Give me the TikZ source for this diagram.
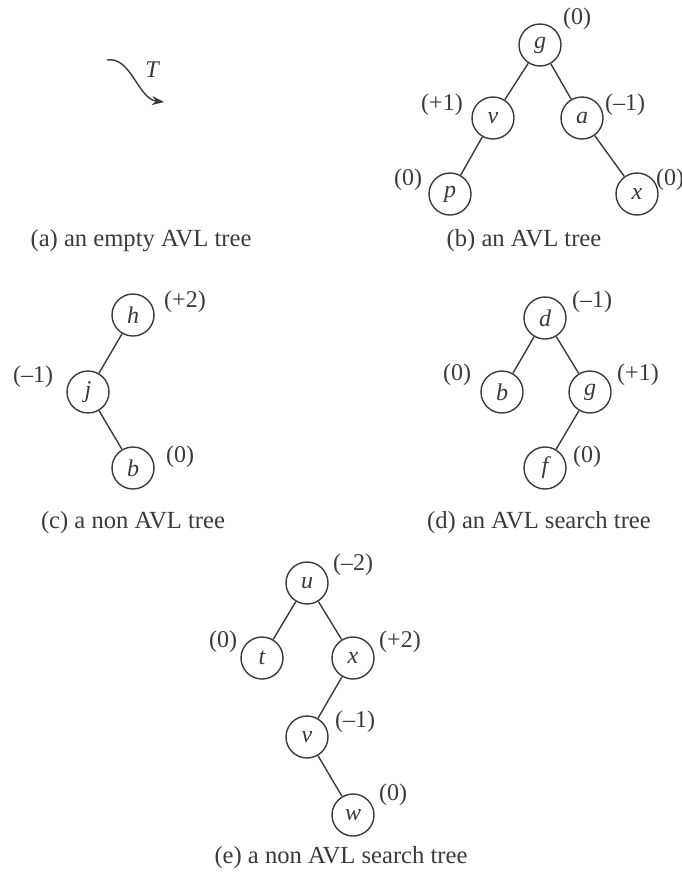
\documentclass[tikz,border=0pt]{standalone}
\usepackage{fontspec}
\setmainfont{Liberation Serif}
\usepackage{tikz}
\usetikzlibrary{arrows.meta}
\definecolor{cizgiGri}{HTML}{3A3A3A}

\begin{document}
\begin{tikzpicture}[x=0.5pt,y=-0.5pt,
  dugum/.style={circle,draw=cizgiGri,line width=0.7pt,minimum size=21pt,inner sep=0pt,
    text=cizgiGri,font=\fontsize{12}{14}\selectfont\itshape},
  denge/.style={text=cizgiGri,font=\fontsize{12}{14}\selectfont},
  altYazi/.style={text=cizgiGri,font=\fontsize{12.3}{14}\selectfont},
  kenar/.style={draw=cizgiGri,line width=0.7pt}]
\useasboundingbox (0,0) rectangle (681,873);
% (a) bos agac: sadece T oku
\coordinate (t0) at (107,60);
\coordinate (t1) at (164,102);
\draw[kenar,-{Stealth[length=6pt,width=4.5pt]}] (t0) .. controls (131,56) and (138,99) .. (t1);
\node[denge,font=\fontsize{12}{14}\selectfont\itshape] (tT) at (152,70) {T};
\node[altYazi] (capA) at (141,241) {(a) an empty AVL tree};
% (b)
\node[dugum] (bg) at (540,45) {g};
\node[dugum] (bv) at (493,118) {v};
\node[dugum] (ba) at (582,118) {a};
\node[dugum] (bp) at (450,194) {p};
\node[dugum] (bx) at (637,194) {x};
\draw[kenar] (bg) -- (bv);
\draw[kenar] (bg) -- (ba);
\draw[kenar] (bv) -- (bp);
\draw[kenar] (ba) -- (bx);
\node[denge] (bgd) at (577,19) {(0)};
\node[denge] (bvd) at (442,105) {(+1)};
\node[denge] (bad) at (625,105) {(--1)};
\node[denge] (bpd) at (408,180) {(0)};
\node[denge] (bxd) at (670,180) {(0)};
\node[altYazi] (capB) at (524,241) {(b) an AVL tree};
% (c)
\node[dugum] (ch) at (133,315) {h};
\node[dugum] (cj) at (88,392) {j};
\node[dugum] (cb) at (133,468) {b};
\draw[kenar] (ch) -- (cj);
\draw[kenar] (cj) -- (cb);
\node[denge] (chd) at (185,302) {(+2)};
\node[denge] (cjd) at (33,377) {(--1)};
\node[denge] (cbd) at (180,457) {(0)};
\node[altYazi] (capC) at (133,523) {(c) a non AVL tree};
% (d)
\node[dugum] (dd) at (545,318) {d};
\node[dugum] (db) at (502,392) {b};
\node[dugum] (dg) at (590,392) {g};
\node[dugum] (df) at (545,468) {f};
\draw[kenar] (dd) -- (db);
\draw[kenar] (dd) -- (dg);
\draw[kenar] (dg) -- (df);
\node[denge] (ddd) at (592,302) {(--1)};
\node[denge] (dbd) at (457,375) {(0)};
\node[denge] (dgd) at (638,375) {(+1)};
\node[denge] (dfd) at (587,457) {(0)};
\node[altYazi] (capD) at (539,523) {(d) an AVL search tree};
% (e)
\node[dugum] (eu) at (307,583) {u};
\node[dugum] (et) at (262,658) {t};
\node[dugum] (ex) at (353,658) {x};
\node[dugum] (ev) at (307,737) {v};
\node[dugum] (ew) at (353,815) {w};
\draw[kenar] (eu) -- (et);
\draw[kenar] (eu) -- (ex);
\draw[kenar] (ex) -- (ev);
\draw[kenar] (ev) -- (ew);
\node[denge] (eud) at (353,565) {(--2)};
\node[denge] (etd) at (223,642) {(0)};
\node[denge] (exd) at (400,642) {(+2)};
\node[denge] (evd) at (355,722) {(--1)};
\node[denge] (ewd) at (393,795) {(0)};
\node[altYazi] (capE) at (341,858) {(e) a non AVL search tree};
\end{tikzpicture}
\end{document}
